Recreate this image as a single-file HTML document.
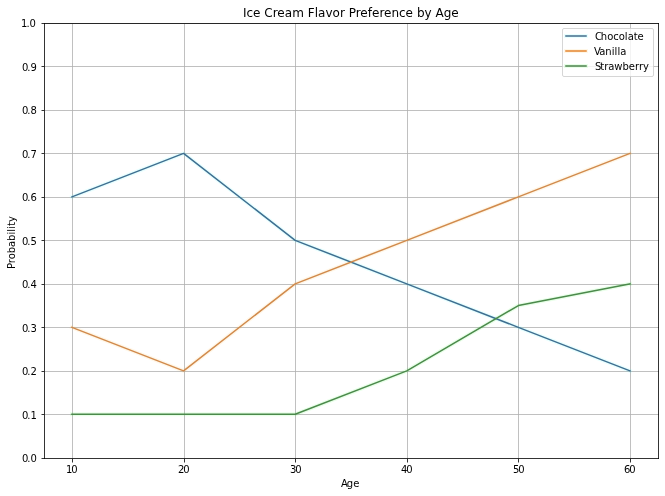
<!DOCTYPE html>
<html lang="en">
<head>
<meta charset="utf-8">
<title>Ice Cream Flavor Preference by Age</title>
<style>
html,body{margin:0;padding:0;background:#fff;}
body{width:665px;height:496px;overflow:hidden;}
svg{display:block;}
svg text{font-family:"DejaVu Sans","Liberation Sans",sans-serif;fill:#000;font-kerning:none;}
.t10{font-size:10px;}
.t12{font-size:12px;}
.grid line{stroke:#b0b0b0;stroke-width:0.8;}
.ticks line,.spines line{stroke:#000;stroke-width:0.8;}
.series polyline{fill:none;stroke-linejoin:round;stroke-linecap:square;}
</style>
</head>
<body>
<svg width="665" height="496" viewBox="0 0 665 496">
<rect x="0" y="0" width="665" height="496" fill="#ffffff"/>

<g class="grid">
<line x1="72.5" y1="23" x2="72.5" y2="459"/>
<line x1="184.5" y1="23" x2="184.5" y2="459"/>
<line x1="295.5" y1="23" x2="295.5" y2="459"/>
<line x1="407.5" y1="23" x2="407.5" y2="459"/>
<line x1="518.5" y1="23" x2="518.5" y2="459"/>
<line x1="630.5" y1="23" x2="630.5" y2="459"/>
<line x1="44" y1="414.5" x2="659" y2="414.5"/>
<line x1="44" y1="371.5" x2="659" y2="371.5"/>
<line x1="44" y1="327.5" x2="659" y2="327.5"/>
<line x1="44" y1="284.5" x2="659" y2="284.5"/>
<line x1="44" y1="240.5" x2="659" y2="240.5"/>
<line x1="44" y1="197.5" x2="659" y2="197.5"/>
<line x1="44" y1="153.5" x2="659" y2="153.5"/>
<line x1="44" y1="110.5" x2="659" y2="110.5"/>
<line x1="44" y1="66.5" x2="659" y2="66.5"/>
<line x1="44" y1="23.5" x2="659" y2="23.5"/>
</g>
<g class="ticks">
<line x1="72.5" y1="459" x2="72.5" y2="462.5"/>
<line x1="184.5" y1="459" x2="184.5" y2="462.5"/>
<line x1="295.5" y1="459" x2="295.5" y2="462.5"/>
<line x1="407.5" y1="459" x2="407.5" y2="462.5"/>
<line x1="518.5" y1="459" x2="518.5" y2="462.5"/>
<line x1="630.5" y1="459" x2="630.5" y2="462.5"/>
<line x1="41.5" y1="458.5" x2="44" y2="458.5"/>
<line x1="41.5" y1="414.5" x2="44" y2="414.5"/>
<line x1="41.5" y1="371.5" x2="44" y2="371.5"/>
<line x1="41.5" y1="327.5" x2="44" y2="327.5"/>
<line x1="41.5" y1="284.5" x2="44" y2="284.5"/>
<line x1="41.5" y1="240.5" x2="44" y2="240.5"/>
<line x1="41.5" y1="197.5" x2="44" y2="197.5"/>
<line x1="41.5" y1="153.5" x2="44" y2="153.5"/>
<line x1="41.5" y1="110.5" x2="44" y2="110.5"/>
<line x1="41.5" y1="66.5" x2="44" y2="66.5"/>
<line x1="41.5" y1="23.5" x2="44" y2="23.5"/>
</g>
<g class="series halo" stroke-width="4" stroke-opacity="0.09">
<polyline stroke="#00ffff" points="71.975,196.872 183.575,153.384 295.175,240.360 406.775,283.848 518.375,327.336 629.975,370.824"/>
<polyline stroke="#ffaa00" points="71.975,327.336 183.575,370.824 295.175,283.848 406.775,240.360 518.375,196.872 629.975,153.384"/>
<polyline stroke="#00ff00" points="71.975,414.312 183.575,414.312 295.175,414.312 406.775,370.824 518.375,305.592 629.975,283.848"/>
</g>
<g class="series" stroke-width="1.5">
<polyline stroke="#3e6f91" points="71.975,196.872 183.575,153.384 295.175,240.360 406.775,283.848 518.375,327.336 629.975,370.824"/>
<polyline stroke="#d18a4c" points="71.975,327.336 183.575,370.824 295.175,283.848 406.775,240.360 518.375,196.872 629.975,153.384"/>
<polyline stroke="#4b8a4b" points="71.975,414.312 183.575,414.312 295.175,414.312 406.775,370.824 518.375,305.592 629.975,283.848"/>
</g>
<g class="spines">
<line x1="44.5" y1="23" x2="44.5" y2="459"/>
<line x1="658.5" y1="23" x2="658.5" y2="459"/>
<line x1="44" y1="458.5" x2="659" y2="458.5"/>
<line x1="44" y1="23.5" x2="659" y2="23.5"/>
</g>
<g class="xticks">
<text class="t10" x="66 71.25" y="473">10</text>
<text class="t10" x="178 183.25" y="473">20</text>
<text class="t10" x="290 295.25" y="473">30</text>
<text class="t10" x="401 406.25" y="473">40</text>
<text class="t10" x="513 518.25" y="473">50</text>
<text class="t10" x="624 629.25" y="473">60</text>
</g>
<g class="yticks">
<text class="t10" x="22 27.25 30.5" y="462">0.0</text>
<text class="t10" x="22 27.25 30.5" y="419">0.1</text>
<text class="t10" x="22 27.25 30.5" y="375">0.2</text>
<text class="t10" x="22 27.25 30.5" y="332">0.3</text>
<text class="t10" x="22 27.25 30.5" y="288">0.4</text>
<text class="t10" x="22 27.25 30.5" y="245">0.5</text>
<text class="t10" x="22 27.25 30.5" y="201">0.6</text>
<text class="t10" x="22 27.25 30.5" y="158">0.7</text>
<text class="t10" x="22 27.25 30.5" y="114">0.8</text>
<text class="t10" x="22 27.25 30.5" y="71">0.9</text>
<text class="t10" x="21 26.5 29.5" y="27">1.0</text>
</g>
<g class="labels">
<text class="t10" x="341 346.75 353.25" y="487">Age</text>
<text class="t10" transform="translate(15,242.75) rotate(-90)" x="-26.25 -20.5 -16.5 -10.5 -4.25 1.75 8.25 11 14 16.75 20.75" y="0">Probability</text>
<text class="t12" x="243 246.5 253 260.5 264.25 272.75 277.25 284.75 292.25 304 307.75 314.75 318 325.5 332.5 340 345 348.75 355.75 360.25 367.75 372 379.5 384 391.5 399 405.5 413 417 424.5 431.75 435.5 443.75 451.25" y="17">Ice Cream Flavor Preference by Age</text>
</g>
<g class="legend">
<rect x="562.5" y="28.5" width="91" height="48" rx="1.5" ry="1.5" fill="#fff" fill-opacity="0.8" stroke="#ccc" stroke-opacity="0.8" stroke-width="1"/>
<line x1="566" y1="36" x2="586" y2="36" stroke="#00ffff" stroke-width="4" stroke-opacity="0.09" stroke-linecap="square"/>
<line x1="566" y1="36" x2="586" y2="36" stroke="#436c8b" stroke-width="1.5" stroke-linecap="square"/>
<text class="t10" x="595 600.75 607.25 613.25 618.75 624.75 627.75 633.75 637.5" y="40">Chocolate</text>
<line x1="566" y1="51" x2="586" y2="51" stroke="#ffaa00" stroke-width="4" stroke-opacity="0.09" stroke-linecap="square"/>
<line x1="566" y1="51" x2="586" y2="51" stroke="#e4842e" stroke-width="1.5" stroke-linecap="square"/>
<text class="t10" x="594 599.25 605.25 611.75 614.5 617.5 620.25" y="55">Vanilla</text>
<line x1="566" y1="66" x2="586" y2="66" stroke="#00ff00" stroke-width="4" stroke-opacity="0.09" stroke-linecap="square"/>
<line x1="566" y1="66" x2="586" y2="66" stroke="#4d834d" stroke-width="1.5" stroke-linecap="square"/>
<text class="t10" x="595 600.25 604.25 608.25 614.25 622.5 628.75 635 639 643" y="70">Strawberry</text>
</g>
</svg>
</body>
</html>
